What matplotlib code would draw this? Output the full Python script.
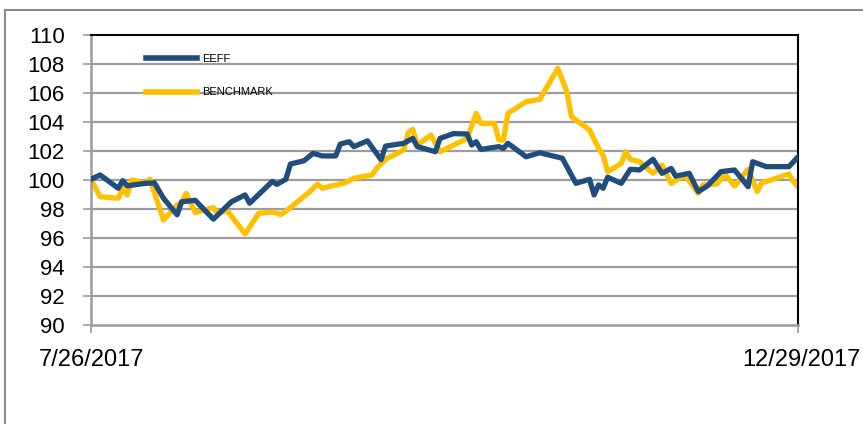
import matplotlib
matplotlib.use("Agg")
import matplotlib.pyplot as plt
import matplotlib.transforms as mtransforms
from matplotlib.lines import Line2D
import pandas as pd

plt.rcParams['font.family'] = ['Liberation Sans', 'DejaVu Sans']

# EEFF fund index (base 100)
eeff_dates = ["2017-07-26", "2017-07-28", "2017-08-01", "2017-08-02", "2017-08-03",
              "2017-08-07", "2017-08-09", "2017-08-11", "2017-08-14", "2017-08-15",
              "2017-08-18", "2017-08-22", "2017-08-26", "2017-08-29", "2017-08-30",
              "2017-09-04", "2017-09-05", "2017-09-07", "2017-09-08", "2017-09-11",
              "2017-09-13", "2017-09-15", "2017-09-18", "2017-09-19", "2017-09-21",
              "2017-09-22", "2017-09-25", "2017-09-28", "2017-09-29", "2017-10-03",
              "2017-10-05", "2017-10-06", "2017-10-10", "2017-10-11", "2017-10-14",
              "2017-10-17", "2017-10-18", "2017-10-19", "2017-10-20", "2017-10-24",
              "2017-10-25", "2017-10-26", "2017-10-30", "2017-11-02", "2017-11-07",
              "2017-11-10", "2017-11-13", "2017-11-14", "2017-11-15", "2017-11-16",
              "2017-11-17", "2017-11-20", "2017-11-22", "2017-11-24", "2017-11-27",
              "2017-11-29", "2017-12-01", "2017-12-02", "2017-12-05", "2017-12-07",
              "2017-12-09", "2017-12-12", "2017-12-15", "2017-12-18", "2017-12-19",
              "2017-12-22", "2017-12-27", "2017-12-29"]
eeff_values = [100.05, 100.35, 99.43, 99.95, 99.6,
               99.77, 99.8, 98.74, 97.6, 98.5,
               98.6, 97.3, 98.5, 98.97, 98.4,
               99.9, 99.7, 100.05, 101.1, 101.33,
               101.84, 101.66, 101.66, 102.48, 102.64,
               102.3, 102.7, 101.4, 102.34, 102.53,
               102.87, 102.3, 101.95, 102.87, 103.2,
               103.17, 102.41, 102.64, 102.11, 102.3,
               102.18, 102.53, 101.6, 101.88, 101.5,
               99.77, 100.05, 98.97, 99.66, 99.43,
               100.19, 99.77, 100.74, 100.69, 101.43,
               100.46, 100.8, 100.27, 100.46, 99.2,
               99.59, 100.58, 100.69, 99.54, 101.26,
               100.92, 100.92, 101.6]

# Benchmark index (base 100)
bench_dates = ["2017-07-26", "2017-07-28", "2017-08-01", "2017-08-02", "2017-08-03",
               "2017-08-04", "2017-08-07", "2017-08-08", "2017-08-11", "2017-08-14",
               "2017-08-15", "2017-08-16", "2017-08-18", "2017-08-22", "2017-08-23",
               "2017-08-25", "2017-08-29", "2017-09-01", "2017-09-04", "2017-09-06",
               "2017-09-08", "2017-09-12", "2017-09-14", "2017-09-15", "2017-09-20",
               "2017-09-22", "2017-09-26", "2017-09-27", "2017-09-29", "2017-10-03",
               "2017-10-04", "2017-10-05", "2017-10-06", "2017-10-09", "2017-10-11",
               "2017-10-17", "2017-10-19", "2017-10-20", "2017-10-23", "2017-10-24",
               "2017-10-25", "2017-10-26", "2017-10-30", "2017-11-02", "2017-11-06",
               "2017-11-08", "2017-11-09", "2017-11-13", "2017-11-15", "2017-11-16",
               "2017-11-17", "2017-11-20", "2017-11-21", "2017-11-22", "2017-11-24",
               "2017-11-27", "2017-11-29", "2017-12-01", "2017-12-04", "2017-12-07",
               "2017-12-08", "2017-12-11", "2017-12-13", "2017-12-15", "2017-12-18",
               "2017-12-20", "2017-12-21", "2017-12-27", "2017-12-28", "2017-12-29"]
bench_values = [100.05, 98.85, 98.74, 99.43, 98.97,
                100.0, 99.8, 100.05, 97.24, 98.28,
                98.44, 99.08, 97.75, 98.1, 97.7,
                97.9, 96.28, 97.7, 97.79, 97.63,
                98.1, 99.12, 99.72, 99.43, 99.8,
                100.12, 100.35, 100.8, 101.43, 102.07,
                103.26, 103.5, 102.41, 103.1, 101.95,
                102.87, 104.6, 103.9, 103.9, 102.76,
                102.76, 104.6, 105.4, 105.56, 107.7,
                106.09, 104.37, 103.45, 102.18, 101.72,
                100.57, 101.15, 101.95, 101.43, 101.26,
                100.46, 101.03, 99.77, 100.35, 99.08,
                99.66, 99.72, 100.35, 99.59, 100.74,
                99.2, 99.8, 100.41, 99.88, 99.54]

series_names = ["EEFF", "BENCHMARK"]
x_ticks = ["2017-07-26", "2017-12-29"]
x_tick_labels = ["7/26/2017", "12/29/2017"]
y_ticks = list(range(90, 111, 2))

blue = "#214C7E"
gold = "#FFC000"
grey = "#9C9C9C"

fig = plt.figure(figsize=(8.63, 4.24), dpi=100)
ax = fig.add_axes([91 / 863, 1 - 325 / 424, 707 / 863, 290 / 424])

ax.plot(pd.to_datetime(eeff_dates), eeff_values, color=blue, lw=3.8,
        solid_joinstyle="round", solid_capstyle="round", zorder=3)
ax.plot(pd.to_datetime(bench_dates), bench_values, color=gold, lw=3.8,
        solid_joinstyle="round", solid_capstyle="round", zorder=2)

ax.set_ylim(90, 110)
ax.set_yticks(y_ticks)
ax.set_xlim(pd.Timestamp(x_ticks[0]), pd.Timestamp(x_ticks[1]))
ax.set_xticks(pd.to_datetime(x_ticks))
ax.set_xticklabels(x_tick_labels)

for y in y_ticks[1:-1]:
    ax.axhline(y, color=grey, lw=1.6, zorder=1)

for s in ["top", "right"]:
    ax.spines[s].set_color("black")
    ax.spines[s].set_linewidth(1.5)
for s in ["left", "bottom"]:
    ax.spines[s].set_color(grey)
    ax.spines[s].set_linewidth(1.8)

ax.tick_params(axis="y", length=6, width=1.2, color=grey, pad=13, labelsize=16)
ax.tick_params(axis="x", length=6, width=1.2, color=grey, pad=11, labelsize=17)

# last date label is pushed in so it stays inside the chart box
lbl = ax.get_xticklabels()[-1]
lbl.set_horizontalalignment("right")
lbl.set_transform(lbl.get_transform() + mtransforms.ScaledTranslation(0.63, 0, fig.dpi_scale_trans))

handles = [Line2D([], [], color=blue, lw=4), Line2D([], [], color=gold, lw=4)]
leg = ax.legend(handles, series_names, loc="upper left", bbox_to_anchor=(0.068, 0.957),
                frameon=False, fontsize=8, handlelength=4.6, handletextpad=0.5,
                labelspacing=2.1, borderaxespad=0.2)

# outer chart frame (clipped at right and bottom as in the original)
fig.add_artist(Line2D([5 / 863, 1], [1 - 10 / 424, 1 - 10 / 424],
                      transform=fig.transFigure, color="#8C8C8C", lw=1.5))
fig.add_artist(Line2D([5 / 863, 5 / 863], [0, 1 - 10 / 424],
                      transform=fig.transFigure, color="#8C8C8C", lw=1.5))

fig.savefig("out.png", dpi=100)
